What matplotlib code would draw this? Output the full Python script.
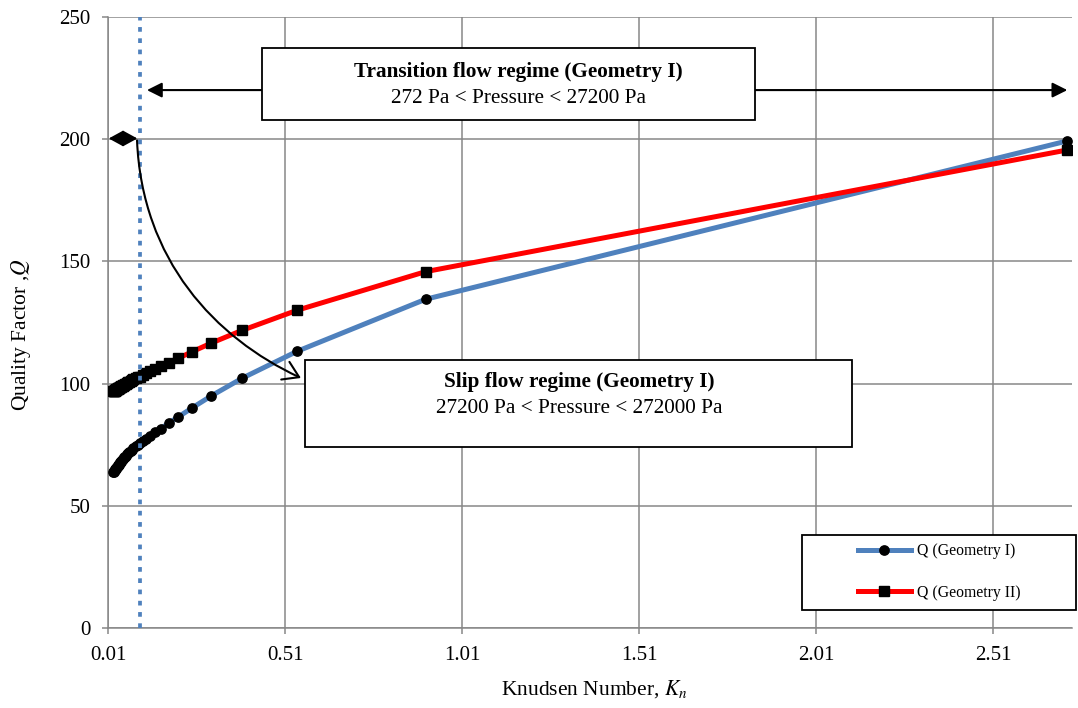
import matplotlib
matplotlib.use('Agg')
import matplotlib.pyplot as plt
from matplotlib.patches import Rectangle, FancyArrowPatch
from matplotlib.path import Path

# ---------------- data ----------------
kn = [2.72, 0.907, 0.544, 0.389, 0.302, 0.247, 0.209, 0.181, 0.160, 0.143,
      0.130, 0.118, 0.109, 0.101, 0.094, 0.088, 0.082, 0.078, 0.074, 0.070,
      0.066, 0.063, 0.060, 0.058, 0.056, 0.053, 0.051, 0.050, 0.048, 0.046,
      0.045, 0.044, 0.042, 0.041, 0.040, 0.039, 0.038, 0.037, 0.036, 0.035,
      0.034, 0.033, 0.032, 0.031, 0.030, 0.029, 0.028, 0.027, 0.026, 0.025]

q_geom1 = [199.3, 134.5, 113.2, 102.2, 95.0, 90.0, 86.4, 83.8, 81.6, 80.0,
           78.7, 77.5, 76.6, 75.8, 75.0, 74.3, 73.6, 73.0, 72.5, 72.0,
           71.4, 71.0, 70.5, 70.1, 69.8, 69.3, 69.0, 68.7, 68.4, 68.0,
           67.8, 67.6, 67.2, 67.0, 66.8, 66.6, 66.4, 66.2, 66.0, 65.8,
           65.6, 65.4, 65.2, 65.0, 64.8, 64.6, 64.4, 64.2, 64.0, 63.8]

q_geom2 = [195.6, 145.8, 130.0, 121.8, 116.6, 113.0, 110.4, 108.6, 107.2, 106.0,
           105.0, 104.2, 103.5, 102.9, 102.5, 102.1, 101.7, 101.4, 101.1, 100.8,
           100.5, 100.2, 100.0, 99.8, 99.6, 99.4, 99.2, 99.1, 98.9, 98.8,
           98.7, 98.6, 98.4, 98.3, 98.2, 98.1, 98.0, 97.9, 97.8, 97.7,
           97.6, 97.5, 97.4, 97.3, 97.2, 97.1, 97.05, 97.0, 96.9, 96.8]

series_labels = ['Q (Geometry I)', 'Q (Geometry II)']
x_ticks = [0.01, 0.51, 1.01, 1.51, 2.01, 2.51]
x_tick_labels = ['0.01', '0.51', '1.01', '1.51', '2.01', '2.51']
y_ticks = [0, 50, 100, 150, 200, 250]
slip_limit_kn = 0.1

transition_title = 'Transition flow regime (Geometry I)'
transition_range = '272 Pa < Pressure < 27200 Pa'
slip_title = 'Slip flow regime (Geometry I)'
slip_range = '27200 Pa < Pressure < 272000 Pa'

# ---------------- style ----------------
plt.rcParams['font.family'] = ['Liberation Serif', 'DejaVu Serif']
plt.rcParams['mathtext.fontset'] = 'stix'

W, H = 1078, 708
fig = plt.figure(figsize=(W / 100, H / 100), dpi=100)
ax = fig.add_axes([108 / W, 80 / H, 964 / W, 611 / H])

grid_c = '#878787'
ax.set_xlim(0.01, 0.01 + 964 / 354)
ax.set_ylim(0, 250)
ax.set_xticks(x_ticks)
ax.set_xticklabels(x_tick_labels)
ax.set_yticks(y_ticks)
ax.grid(True, color=grid_c, lw=1.1)
ax.set_axisbelow(True)
for s in ('top', 'right'):
    ax.spines[s].set_visible(False)
for s in ('left', 'bottom'):
    ax.spines[s].set_color(grid_c)
    ax.spines[s].set_linewidth(1.1)
ax.tick_params(axis='both', direction='out', length=4.3, width=1.1,
               color=grid_c, labelsize=15)
ax.tick_params(axis='x', pad=8.5)
ax.tick_params(axis='y', pad=8.5)

# ---------------- series ----------------
l1, = ax.plot(kn, q_geom1, color='#4F81BD', lw=3.6, marker='o', ms=6.7,
              mfc='black', mec='black', zorder=3, label=series_labels[0])
l2, = ax.plot(kn, q_geom2, color='#FF0000', lw=3.6, marker='s', ms=6.5,
              mfc='black', mec='black', zorder=3, label=series_labels[1])

ax.axvline(slip_limit_kn, color='#4F81BD', lw=2.7, ls=(0, (1.25, 1.75)),
           dash_capstyle='butt', zorder=4)

# ---------------- annotations ----------------
# horizontal double arrow (transition regime)
ax.add_patch(FancyArrowPatch((0.12, 220.1), (2.72, 220.1),
                             arrowstyle='<|-|>,head_length=0.6,head_width=0.3',
                             mutation_scale=15, lw=1.5, color='black',
                             shrinkA=0, shrinkB=0, zorder=5))
# small double arrow (slip regime)
ax.add_patch(FancyArrowPatch((0.012, 200.3), (0.093, 200.3),
                             arrowstyle='<|-|>,head_length=0.55,head_width=0.3',
                             mutation_scale=16, lw=1.5, color='black',
                             shrinkA=0, shrinkB=0, zorder=5))
# curved arrow to slip box
curve = Path([(0.092, 199.5), (0.106, 150.6), (0.312, 118.7), (0.555, 102.3)],
             [Path.MOVETO, Path.CURVE4, Path.CURVE4, Path.CURVE4])
ax.add_patch(FancyArrowPatch(path=curve,
                             arrowstyle='->,head_length=0.55,head_width=0.35',
                             mutation_scale=20, lw=1.5, color='black',
                             zorder=5))

# boxes
ax.add_patch(Rectangle((0.445, 207.9), 1.838 - 0.445, 237.3 - 207.9,
                       fc='white', ec='black', lw=1.3, zorder=6))
ax.add_patch(Rectangle((0.566, 74.1), 2.112 - 0.566, 109.7 - 74.1,
                       fc='white', ec='black', lw=1.3, zorder=6))

ax.text(1.17, 227.5, transition_title, ha='center', va='center',
        fontsize=15.3, fontweight='bold', zorder=7)
ax.text(1.17, 216.8, transition_range, ha='center', va='center',
        fontsize=15.3, zorder=7)
ax.text(1.34, 100.7, slip_title, ha='center', va='center',
        fontsize=15.3, fontweight='bold', zorder=7)
ax.text(1.34, 90.0, slip_range, ha='center', va='center',
        fontsize=15.3, zorder=7)

# ---------------- legend ----------------
leg = ax.legend(handles=[l1, l2], loc='center',
                bbox_to_anchor=((939 - 108) / 964, (628 - 572) / 611),
                frameon=False, fontsize=11.3, handlelength=3.4,
                handletextpad=0.38, labelspacing=1.62, numpoints=1)
leg.set_zorder(8)
ax.add_patch(Rectangle(((802 - 108) / 964, (628 - 610) / 611),
                       274 / 964, 75 / 611, transform=ax.transAxes,
                       fc='white', ec='black', lw=1.3, zorder=7,
                       clip_on=False))

# ---------------- axis labels ----------------
ax.set_xlabel(r'Knudsen Number, $\mathit{K_n}$', fontsize=15.5)
ax.xaxis.set_label_coords((594 - 108) / 964, -(678 - 628) / 611)
ax.set_ylabel(r'Quality Factor ,$\mathit{Q}$', fontsize=15.5)
ax.yaxis.set_label_coords(-(108 - 33) / 964, (628 - 335) / 611)

fig.savefig('out.png', dpi=100)
